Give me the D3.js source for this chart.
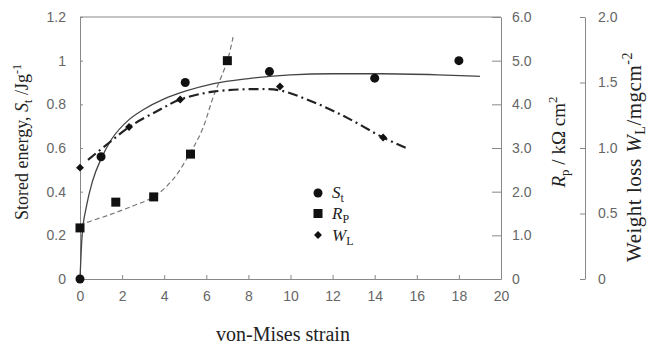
<!DOCTYPE html>
<html>
<head>
<meta charset="utf-8">
<script src="https://cdn.jsdelivr.net/npm/d3@7"></script>
<style>
  body { margin: 0; background: #fff; }
  .tick text { font-family: "Liberation Sans", Arial, sans-serif; font-size: 14px; fill: #666; }
  .ttl { font-family: "Liberation Serif", "Times New Roman", serif; font-size: 17px; fill: #222; }
</style>
</head>
<body>
<div id="chart"></div>
<script>
// measured points
var stPoints = [[0, 0], [1, 0.56], [5, 0.9], [9, 0.95], [14, 0.92], [18, 1.0]];
var rpPoints = [[0, 1.17], [1.7, 1.76], [3.5, 1.88], [5.25, 2.86], [7, 5.0]];
var wlPoints = [[0, 0.85], [2.33, 1.16], [4.76, 1.37], [9.5, 1.47], [14.4, 1.08]];

// fitted curves
var stCurve = [[0, 0], [0.1, 0.2], [0.3, 0.33], [0.6, 0.45], [1, 0.55], [1.5, 0.64], [2.33, 0.73], [3, 0.775],
               [4, 0.825], [5, 0.86], [6.35, 0.895], [8, 0.918], [10, 0.935], [12, 0.94], [14.3, 0.94], [17, 0.935], [19, 0.928]];
var rpCurve = [[0, 1.22], [0.25, 1.28], [1.4, 1.47], [2.6, 1.69], [3.5, 1.88], [4.4, 2.27], [5.2, 2.86], [5.8, 3.41],
               [6.33, 4.17], [7, 5.0], [7.27, 5.54]];
var wlCurve = [[0.38, 0.91], [1.38, 1.04], [2.33, 1.16], [3.76, 1.29], [4.76, 1.37], [6.33, 1.43], [8.43, 1.45],
               [9.5, 1.44], [11.1, 1.35], [12.7, 1.23], [14.4, 1.08], [15.5, 1.0]];

var xTicks = [0, 2, 4, 6, 8, 10, 12, 14, 16, 18, 20];
var stTicks = [0, 0.2, 0.4, 0.6, 0.8, 1, 1.2];
var rpTicks = [0, 1, 2, 3, 4, 5, 6];
var wlTicks = [0, 0.5, 1, 1.5, 2];

(function() {
  var W = 648, H = 347;
  var pLeft = 80, pRight = 501, pTop = 17, pBottom = 279;

  var svg = d3.select("#chart").append("svg")
    .attr("width", W).attr("height", H);

  var x = d3.scaleLinear().domain([0, 20]).range([pLeft, pRight]);
  var yS = d3.scaleLinear().domain([0, 1.2]).range([pBottom, pTop]);
  var yR = d3.scaleLinear().domain([0, 6]).range([pBottom, pTop]);
  var yW = d3.scaleLinear().domain([0, 2]).range([pBottom, pTop]);

  var fmt1 = function(d) { return d === 0 ? "0" : d3.format(".1f")(d); };

  function styleAxis(g) {
    g.select(".domain").attr("stroke", "#888");
    g.selectAll(".tick line").attr("stroke", "#888");
  }

  // x axis
  svg.append("g")
    .attr("transform", "translate(0," + pBottom + ")")
    .call(d3.axisBottom(x).tickValues(xTicks).tickSizeInner(-4).tickSizeOuter(0).tickPadding(12))
    .call(styleAxis);

  // left axis
  svg.append("g")
    .attr("transform", "translate(" + pLeft + ",0)")
    .call(d3.axisLeft(yS).tickValues(stTicks).tickFormat(d3.format("~g")).tickSizeInner(-3).tickSizeOuter(0).tickPadding(14))
    .call(styleAxis);

  // top border
  svg.append("line")
    .attr("x1", pLeft).attr("x2", pRight).attr("y1", pTop).attr("y2", pTop)
    .attr("stroke", "#888");

  // Rp axis
  svg.append("g")
    .attr("transform", "translate(" + pRight + ",0)")
    .call(d3.axisRight(yR).tickValues(rpTicks).tickFormat(fmt1).tickSizeInner(-9).tickSizeOuter(0).tickPadding(11))
    .call(styleAxis);

  // WL axis
  svg.append("g")
    .attr("transform", "translate(585,0)")
    .call(d3.axisRight(yW).tickValues(wlTicks).tickFormat(fmt1).tickSizeInner(-5).tickSizeOuter(0).tickPadding(13))
    .call(styleAxis);

  // curves
  var lineS = d3.line().x(function(d) { return x(d[0]); }).y(function(d) { return yS(d[1]); }).curve(d3.curveMonotoneX);
  var lineR = d3.line().x(function(d) { return x(d[0]); }).y(function(d) { return yR(d[1]); }).curve(d3.curveCatmullRom);
  var lineW = d3.line().x(function(d) { return x(d[0]); }).y(function(d) { return yW(d[1]); }).curve(d3.curveCatmullRom);

  svg.append("path").datum(stCurve).attr("d", lineS)
    .attr("fill", "none").attr("stroke", "#444").attr("stroke-width", 1.3);
  svg.append("path").datum(rpCurve).attr("d", lineR)
    .attr("fill", "none").attr("stroke", "#777").attr("stroke-width", 1.2).attr("stroke-dasharray", "5,3");
  svg.append("path").datum(wlCurve).attr("d", lineW)
    .attr("fill", "none").attr("stroke", "#222").attr("stroke-width", 2.2).attr("stroke-dasharray", "10,4,2,4");

  // markers
  svg.selectAll(".st").data(stPoints).enter().append("circle")
    .attr("cx", function(d) { return x(d[0]); })
    .attr("cy", function(d) { return yS(d[1]); })
    .attr("r", 4.5).attr("fill", "#111");

  svg.selectAll(".rp").data(rpPoints).enter().append("rect")
    .attr("x", function(d) { return x(d[0]) - 4.5; })
    .attr("y", function(d) { return yR(d[1]) - 4.5; })
    .attr("width", 9).attr("height", 9).attr("fill", "#111");

  var diamond = d3.symbol().type(d3.symbolDiamond2).size(40);
  svg.selectAll(".wl").data(wlPoints).enter().append("path")
    .attr("d", diamond)
    .attr("transform", function(d) { return "translate(" + x(d[0]) + "," + yW(d[1]) + ")"; })
    .attr("fill", "#111");

  // legend
  var leg = svg.append("g");
  leg.append("circle").attr("cx", 318).attr("cy", 193).attr("r", 4.5).attr("fill", "#111");
  leg.append("rect").attr("x", 313.5).attr("y", 209).attr("width", 9).attr("height", 9).attr("fill", "#111");
  leg.append("path").attr("d", diamond).attr("transform", "translate(318,235)").attr("fill", "#111");

  function subLabel(g, xx, yy, main, sub) {
    var t = g.append("text").attr("class", "ttl").attr("x", xx).attr("y", yy);
    t.append("tspan").style("font-style", "italic").text(main);
    t.append("tspan").style("font-size", "12px").attr("dy", 4).text(sub);
    return t;
  }
  subLabel(leg, 332, 198, "S", "t");
  subLabel(leg, 332, 219, "R", "P");
  subLabel(leg, 332, 241, "W", "L");

  // axis titles
  var t1 = svg.append("text").attr("class", "ttl")
    .attr("transform", "translate(28,142) rotate(-90)").attr("text-anchor", "middle")
    .style("font-size", "18px");
  t1.append("tspan").text("Stored energy, ");
  t1.append("tspan").style("font-style", "italic").text("S");
  t1.append("tspan").style("font-size", "12px").attr("dy", 4).text("t");
  t1.append("tspan").attr("dy", -4).text(" /Jg");
  t1.append("tspan").style("font-size", "12px").attr("dy", -7).text("-1");

  var t2 = svg.append("text").attr("class", "ttl")
    .attr("transform", "translate(565,142) rotate(-90)").attr("text-anchor", "middle")
    .style("font-size", "19px");
  t2.append("tspan").style("font-style", "italic").text("R");
  t2.append("tspan").style("font-size", "13px").attr("dy", 4).text("p");
  t2.append("tspan").attr("dy", -4).text(" / k\u03A9 cm");
  t2.append("tspan").style("font-size", "13px").attr("dy", -8).text("2");

  var t3 = svg.append("text").attr("class", "ttl")
    .attr("transform", "translate(641,157) rotate(-90)").attr("text-anchor", "middle")
    .style("font-size", "21px").style("letter-spacing", "0.5px");
  t3.append("tspan").text("Weight loss ");
  t3.append("tspan").style("font-style", "italic").text("W");
  t3.append("tspan").style("font-size", "14px").attr("dy", 4).text("L");
  t3.append("tspan").attr("dy", -4).text("/mgcm");
  t3.append("tspan").style("font-size", "14px").attr("dy", -9).text("-2");

  svg.append("text").attr("class", "ttl")
    .attr("x", 283).attr("y", 341).attr("text-anchor", "middle")
    .style("font-size", "20px")
    .text("von-Mises strain");
})();
</script>
</body>
</html>
